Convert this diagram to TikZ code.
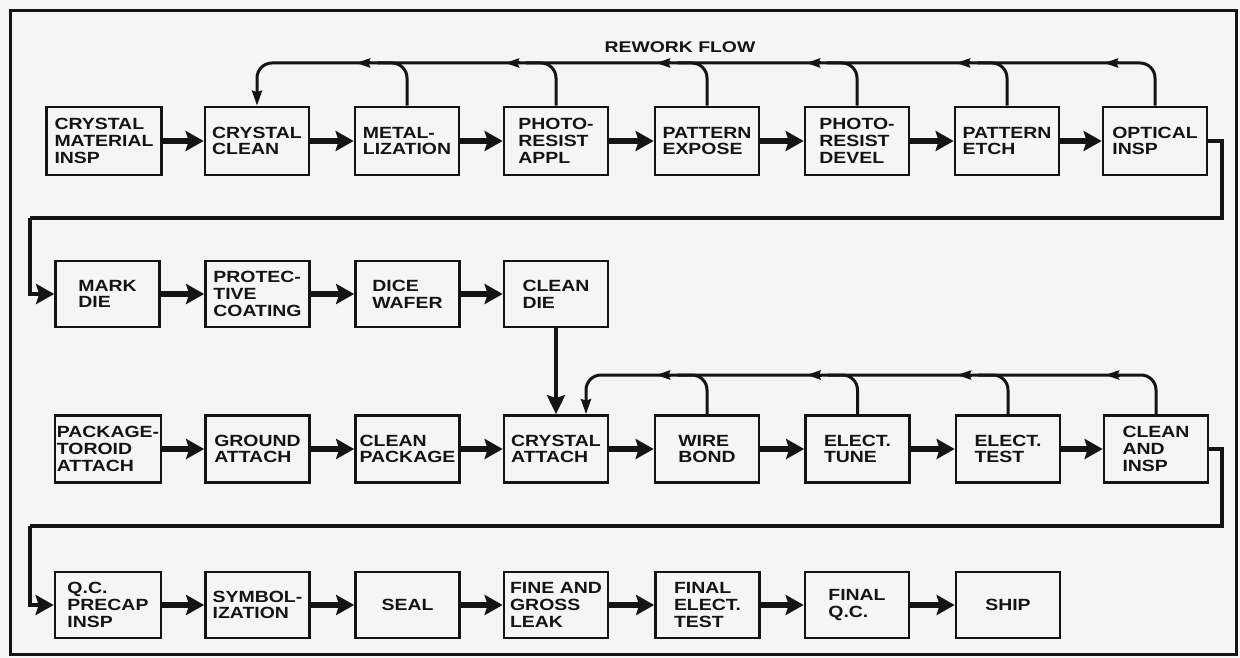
\documentclass[tikz,border=0pt]{standalone}
\usepackage{fontspec}
\setmainfont{Liberation Sans}[FakeStretch=1.2]
\newfontfamily\lblfamily{Liberation Sans}[FakeStretch=1.25]
\usetikzlibrary{arrows.meta}
\definecolor{ink}{RGB}{20,20,20}
\definecolor{paper}{RGB}{245,245,245}
\newcommand{\boxfont}{\fontsize{16.2}{16.8}\selectfont\bfseries}
\newcommand{\lblfont}{\lblfamily\fontsize{15.5}{17}\selectfont\bfseries}
\begin{document}
\begin{tikzpicture}[x=1pt,y=-1pt,
  box/.style={draw=ink, line width=2.7pt, minimum height=67pt, minimum width=104pt, inner sep=2pt, align=left, font=\boxfont, text=ink},
  flow/.style={draw=ink, line width=6pt, -{Stealth[length=18pt,width=20pt,inset=3pt]}},
  link/.style={draw=ink, line width=4.6pt},
  linkarrow/.style={link, -{Stealth[length=18pt,width=20pt,inset=3pt]}},
  vflow/.style={draw=ink, line width=3.8pt, -{Stealth[length=19pt,width=18pt,inset=3pt]}},
  rw/.style={draw=ink, line width=3pt, rounded corners=15pt},
  rwdown/.style={rw, -{Stealth[length=15pt,width=10pt,inset=1.5pt]}},
  rwtip/.style={draw=ink, line width=3pt, -{Stealth[length=14pt,width=9pt,inset=1.5pt]}},
  lbl/.style={font=\lblfont, text=ink}
]
\fill[paper] (0,0) rectangle (1240,658);
\useasboundingbox (0,0) rectangle (1240,658);
\draw[ink, line width=3pt] (10,11) rectangle (1236,654);

% Row 1
\node[box, minimum width=115pt, minimum height=68pt] (b1) at (104,141) {CRYSTAL\\MATERIAL\\INSP};
\node[box, minimum height=68pt] (b2) at (257,141) {CRYSTAL\\CLEAN};
\node[box, minimum height=68pt] (b3) at (407,141) {METAL-\\LIZATION};
\node[box, minimum height=68pt] (b4) at (556,141) {PHOTO-\\RESIST\\APPL};
\node[box, minimum height=68pt] (b5) at (707,141) {PATTERN\\EXPOSE};
\node[box, minimum height=68pt] (b6) at (857,141) {PHOTO-\\RESIST\\DEVEL};
\node[box, minimum height=68pt] (b7) at (1007,141) {PATTERN\\ETCH};
\node[box, minimum height=68pt] (b8) at (1155,141) {OPTICAL\\INSP};

% Row 2
\node[box, minimum height=66pt] (m1) at (107.5,294) {MARK\\DIE};
\node[box, minimum height=66pt] (m2) at (257.5,294) {PROTEC-\\TIVE\\COATING};
\node[box, minimum height=66pt] (m3) at (407.5,294) {DICE\\WAFER};
\node[box, minimum height=66pt] (m4) at (556,294) {CLEAN\\DIE};

% Row 3
\node[box, minimum width=106pt] (c1) at (108,449) {PACKAGE-\\TOROID\\ATTACH};
\node[box] (c2) at (257.5,449) {GROUND\\ATTACH};
\node[box] (c3) at (407.5,449) {CLEAN\\PACKAGE};
\node[box] (c4) at (556,449) {CRYSTAL\\ATTACH};
\node[box] (c5) at (707,449) {WIRE\\BOND};
\node[box] (c6) at (857.5,449) {ELECT.\\TUNE};
\node[box] (c7) at (1008,449) {ELECT.\\TEST};
\node[box] (c8) at (1156,449) {CLEAN\\AND\\INSP};

% Row 4
\node[box, minimum width=106pt, minimum height=66pt] (d1) at (108,605) {Q.C.\\PRECAP\\INSP};
\node[box, minimum height=66pt] (d2) at (257.5,605) {SYMBOL-\\IZATION};
\node[box, minimum height=66pt] (d3) at (407.5,605) {SEAL};
\node[box, minimum height=66pt] (d4) at (556,605) {FINE AND\\GROSS\\LEAK};
\node[box, minimum height=66pt] (d5) at (707.5,605) {FINAL\\ELECT.\\TEST};
\node[box, minimum height=66pt] (d6) at (857,605) {FINAL\\Q.C.};
\node[box, minimum height=66pt] (d7) at (1008,605) {SHIP};

% label
\node[lbl] (rwlabel) at (680,47) {REWORK FLOW};

% main flow arrows
\foreach \a/\b in {b1/b2,b2/b3,b3/b4,b4/b5,b5/b6,b6/b7,b7/b8,
                   m1/m2,m2/m3,m3/m4,
                   c1/c2,c2/c3,c3/c4,c4/c5,c5/c6,c6/c7,c7/c8,
                   d1/d2,d2/d3,d3/d4,d4/d5,d5/d6,d6/d7}
  \draw[flow] (\a.east) -- (\b.west);

% row transitions
\coordinate (r1) at (1222,218);
\coordinate (l1) at (30,218);
\draw[link] (b8.east) -| (r1) -- (l1);
\draw[linkarrow] (l1) |- (m1.west);
\coordinate (r3) at (1222,526);
\coordinate (l3) at (30,526);
\draw[link] (c8.east) -| (r3) -- (l3);
\draw[linkarrow] (l3) |- (d1.west);

% clean die -> crystal attach
\draw[vflow] (m4.south) -- (c4.north);

% rework flow row 1
\coordinate (t1) at (0,63);
\draw[rwdown] (b8.north) |- (b2.north |- t1) -- (b2.north);
\foreach \n in {b3,b4,b5,b6,b7}
  \draw[rw] (\n.north) |- ([xshift=-30pt]\n.north |- t1);
\foreach \n in {b3,b4,b5,b6,b7,b8}
  \draw[rwtip] ([xshift=-36pt]\n.north |- t1) -- ([xshift=-51pt]\n.north |- t1);

% rework flow row 3
\coordinate (t3) at (0,375);
\draw[rwdown] (c8.north) |- ([xshift=30pt]c4.north |- t3) -- ([xshift=30pt]c4.north);
\foreach \n in {c5,c6,c7}
  \draw[rw] (\n.north) |- ([xshift=-30pt]\n.north |- t3);
\foreach \n in {c5,c6,c7,c8}
  \draw[rwtip] ([xshift=-36pt]\n.north |- t3) -- ([xshift=-51pt]\n.north |- t3);
\end{tikzpicture}
\end{document}
